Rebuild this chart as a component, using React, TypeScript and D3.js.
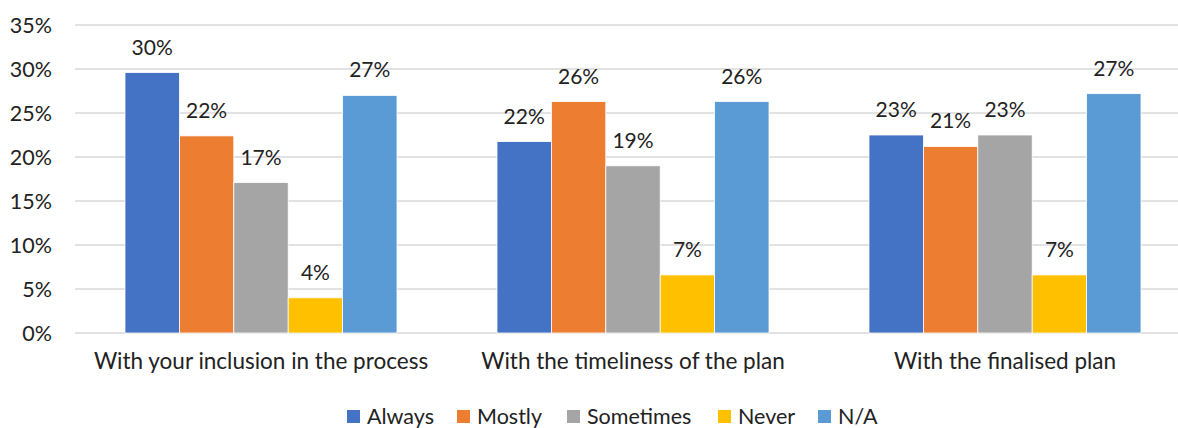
import React from "react";
import * as d3 from "d3";

const categories = [
  "With your inclusion in the process",
  "With the timeliness of the plan",
  "With the finalised plan",
];
const seriesNames = ["Always", "Mostly", "Sometimes", "Never", "N/A"];
const seriesColors = ["#4472C4", "#ED7D31", "#A5A5A5", "#FFC000", "#5B9BD5"];
const always = [29.6, 21.75, 22.5];
const mostly = [22.4, 26.3, 21.2];
const sometimes = [17.1, 19.0, 22.5];
const never = [4.0, 6.6, 6.6];
const na = [27.0, 26.3, 27.2];
const seriesValues = [always, mostly, sometimes, never, na];
const yTicks = [0, 5, 10, 15, 20, 25, 30, 35];

const W = 1178;
const H = 428;
const FONT = "Lato, 'Open Sans', sans-serif";

export default function App() {
  const x0 = d3.scaleBand<string>().domain(categories).range([75, 1191]).paddingInner(0).paddingOuter(0);
  const inner = d3.scaleBand<string>().domain(seriesNames).range([50, x0.bandwidth() - 50]);
  const y = d3.scaleLinear().domain([0, 35]).range([333, 25]);

  const legendX = [347, 457, 567, 718, 818];

  return (
    <div style={{ position: "absolute", left: 0, top: 0 }}>
      <svg width={W} height={H} style={{ display: "block", fontFamily: FONT }}>
        <rect x={0} y={0} width={W} height={H} fill="#fff" />
        {yTicks.map((t) => (
          <g key={t}>
            <line x1={75} x2={W} y1={y(t)} y2={y(t)} stroke="#D9D9D9" strokeWidth={1.3} />
            <text x={52} y={y(t)} dy="0.35em" textAnchor="end" fontSize={21.5} fill="#222">
              {t}%
            </text>
          </g>
        ))}
        {categories.map((c, ci) => (
          <g key={c} transform={`translate(${x0(c)},0)`}>
            {seriesNames.map((s, si) => {
              const v = seriesValues[si][ci];
              const bx = inner(s)!;
              return (
                <g key={s}>
                  <rect
                    x={bx}
                    y={y(v)}
                    width={inner.bandwidth()}
                    height={y(0) - y(v)}
                    fill={seriesColors[si]}
                    stroke="#fff"
                    strokeWidth={0.8}
                  />
                  <text
                    x={bx + inner.bandwidth() / 2}
                    y={y(v) - 18}
                    textAnchor="middle"
                    fontSize={21}
                    fill="#222"
                  >
                    {Math.round(v)}%
                  </text>
                </g>
              );
            })}
            <text x={x0.bandwidth() / 2} y={369} textAnchor="middle" fontSize={22.5} fill="#222">
              {c}
            </text>
          </g>
        ))}
        {seriesNames.map((s, i) => (
          <g key={s}>
            <rect x={legendX[i]} y={410} width={13} height={13} fill={seriesColors[i]} />
            <text x={legendX[i] + 20} y={424} fontSize={21.5} fill="#222">
              {s}
            </text>
          </g>
        ))}
      </svg>
    </div>
  );
}
